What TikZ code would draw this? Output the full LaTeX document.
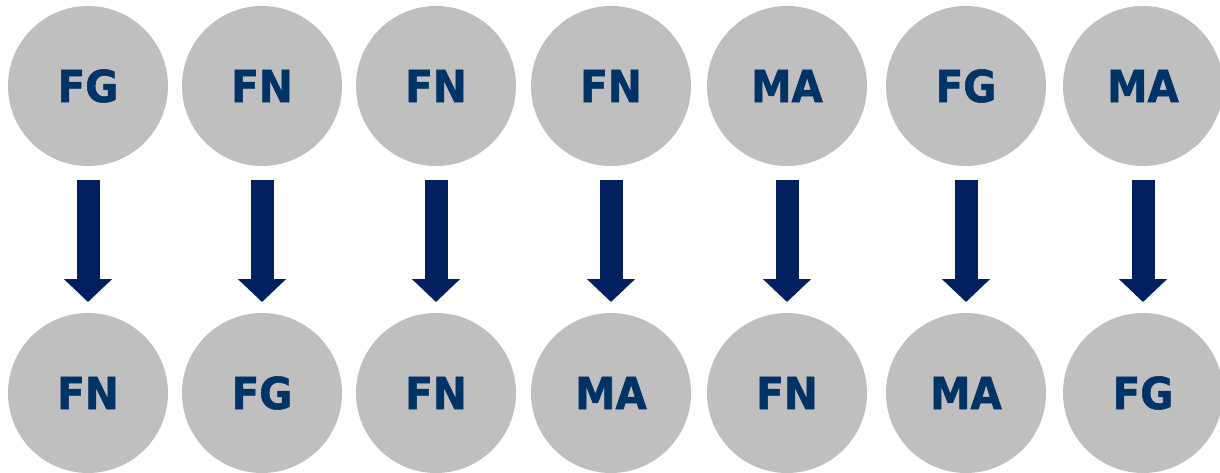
\documentclass[tikz,border=0pt]{standalone}
\usepackage{fontspec}
\usepackage{tikz}
\usetikzlibrary{arrows.meta,positioning}
\newfontfamily\lblfont[FakeStretch=0.92, BoldFeatures={FakeBold=1.2}]{DejaVu Sans}
\definecolor{circlegray}{RGB}{191,191,191}
\definecolor{labelblue}{RGB}{0,51,102}
\definecolor{arrownavy}{RGB}{0,32,96}
\tikzset{%
   role/.style={circle, inner sep=0mm, outer sep=0mm, minimum size=160pt, fill=circlegray,
      text=labelblue, font=\lblfont\bfseries\fontsize{44}{44}\selectfont},
   swap/.style={draw=arrownavy, line width=23pt,
      -{Triangle[length=23pt, width=47pt]},
      shorten <=14pt, shorten >=11pt},
}

\begin{document}
\begin{tikzpicture}[x=1pt, y=-1pt]
   \useasboundingbox (0,0) rectangle (1220,473);
   % top row, bottom row and the swap arrow of each column
   \foreach \i/\x/\before/\after in {1/88/FG/FN, 2/262/FN/FG, 3/436/FN/FN, 4/611/FN/MA,
                                       5/787/MA/FN, 6/966/FG/MA, 7/1143/MA/FG}{
      \node[role] (top\i) at (\x,86) {\before};
      \node[role] (bot\i) at (\x,393) {\after};
      \draw[swap] (top\i) -- (bot\i);
   }
\end{tikzpicture}
\end{document}
